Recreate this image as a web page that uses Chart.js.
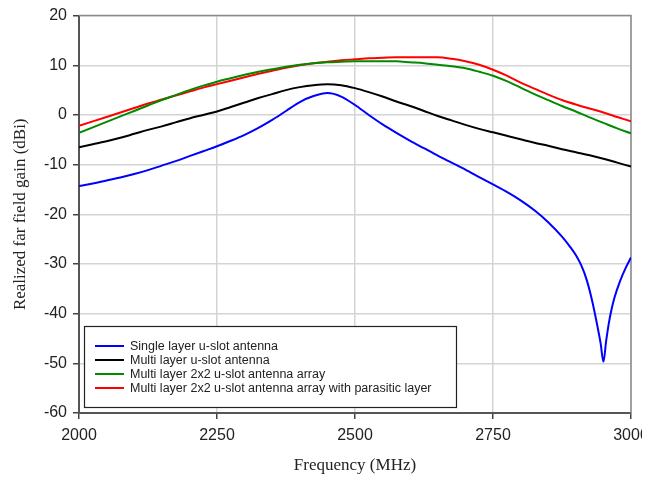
<!DOCTYPE html>
<html>
<head>
<meta charset="utf-8">
<title>Realized far field gain vs frequency</title>
<script src="https://cdn.jsdelivr.net/npm/chart.js@4"></script>
<style>
    html, body { margin: 0; padding: 0; background: #fff; }
    /* the reference is cropped just past the 3000 label */
    #wrap { width: 642px; height: 482px; overflow: hidden; }
</style>
</head>
<body>
<div id="wrap"><canvas id="gainChart" width="659" height="482"></canvas></div>
<script>
// Frequency points (MHz) for the three smooth curves
const freqs = [2000, 2025, 2050, 2075, 2100, 2125, 2150, 2175, 2200, 2225,
               2250, 2275, 2300, 2325, 2350, 2375, 2400, 2425, 2450, 2475,
               2500, 2525, 2550, 2575, 2600, 2625, 2650, 2675, 2700, 2725,
               2750, 2775, 2800, 2825, 2850, 2875, 2900, 2925, 2950, 2975, 3000];

// Single layer curve has a deep null near 2950, so it gets more points there
const singleFreqs = [2000, 2025, 2050, 2075, 2100, 2125, 2150, 2175, 2200, 2225,
                     2250, 2275, 2300, 2325, 2350, 2375, 2400, 2425, 2450, 2475,
                     2500, 2525, 2550, 2575, 2600, 2625, 2650, 2675, 2700, 2725,
                     2750, 2775, 2800, 2825, 2850, 2875, 2890, 2900, 2910, 2920,
                     2930, 2940, 2945, 2950, 2955, 2960, 2965, 2970, 2980, 2990, 3000];

// Realized gain (dBi)
const singleLayer = [-14.3, -13.8, -13.2, -12.6, -11.9, -11.1, -10.2, -9.3, -8.3, -7.3,
                     -6.3, -5.2, -4.0, -2.6, -1.0, 0.8, 2.6, 3.8, 4.4, 3.7,
                     2.0, 0.0, -1.9, -3.6, -5.2, -6.7, -8.2, -9.6, -11.0, -12.5,
                     -14.0, -15.5, -17.2, -19.2, -21.6, -24.5, -26.6, -28.2, -30.3, -33.3,
                     -37.6, -43.0, -46.0, -49.7, -45.5, -41.8, -39.0, -36.8, -33.5, -30.9, -28.7];

const multiLayer = [-6.5, -5.9, -5.3, -4.6, -3.8, -3.0, -2.3, -1.5, -0.7, 0.0,
                    0.7, 1.6, 2.5, 3.4, 4.2, 5.0, 5.6, 6.0, 6.2, 6.0,
                    5.4, 4.6, 3.7, 2.7, 1.8, 0.8, -0.2, -1.1, -2.0, -2.8,
                    -3.5, -4.2, -4.9, -5.6, -6.2, -6.9, -7.5, -8.1, -8.8, -9.6, -10.4];

const array2x2 = [-3.6, -2.5, -1.4, -0.3, 0.8, 1.9, 3.0, 4.0, 5.0, 5.9,
                  6.7, 7.4, 8.1, 8.7, 9.2, 9.7, 10.1, 10.4, 10.6, 10.7,
                  10.8, 10.8, 10.8, 10.8, 10.6, 10.4, 10.1, 9.8, 9.4, 8.7,
                  7.9, 6.8, 5.5, 4.2, 3.0, 1.8, 0.7, -0.5, -1.6, -2.7, -3.7];

const arrayParasitic = [-2.2, -1.3, -0.4, 0.5, 1.4, 2.3, 3.1, 3.9, 4.7, 5.5,
                        6.2, 6.9, 7.6, 8.3, 8.9, 9.5, 10.0, 10.4, 10.7, 11.0,
                        11.2, 11.4, 11.5, 11.6, 11.6, 11.6, 11.6, 11.3, 10.8, 10.1,
                        9.1, 7.9, 6.5, 5.3, 4.1, 3.0, 2.1, 1.3, 0.5, -0.4, -1.3];

const seriesNames = ['Single layer u-slot antenna',
                     'Multi layer u-slot antenna',
                     'Multi layer 2x2 u-slot antenna array',
                     'Multi layer 2x2 u-slot antenna array with parasitic layer'];
const seriesColors = ['#0000ff', '#000000', '#008a00', '#ff0000'];

function toPoints(xs, ys) {
    return xs.map((x, i) => ({ x: x, y: ys[i] }));
}

// Legend drawn as a boxed inset at the lower left of the plot
const insetLegend = {
    id: 'insetLegend',
    afterDatasetsDraw(chart) {
        const ctx = chart.ctx;
        const box = { x: 84, y: 326, w: 372, h: 81 };
        ctx.save();
        ctx.fillStyle = '#ffffff';
        ctx.fillRect(box.x, box.y, box.w, box.h);
        ctx.strokeStyle = '#222';
        ctx.lineWidth = 1.2;
        ctx.strokeRect(box.x + 0.5, box.y + 0.5, box.w, box.h);
        ctx.font = '12.5px "Liberation Sans", Arial, sans-serif';
        ctx.textBaseline = 'middle';
        chart.data.datasets.forEach((ds, i) => {
            const y = 346 + i * 14;
            ctx.strokeStyle = ds.borderColor;
            ctx.lineWidth = 2;
            ctx.beginPath();
            ctx.moveTo(95, y);
            ctx.lineTo(124, y);
            ctx.stroke();
            ctx.fillStyle = '#222';
            ctx.fillText(ds.label, 130, y + 0.5);
        });
        ctx.restore();
    },
    // top and right frame lines of the plot
    beforeDatasetsDraw(chart) {
        const { ctx, chartArea: a } = chart;
        ctx.save();
        ctx.strokeStyle = '#8a8a8a';
        ctx.lineWidth = 1.5;
        ctx.beginPath();
        ctx.moveTo(a.left, a.top);
        ctx.lineTo(a.right, a.top);
        ctx.lineTo(a.right, a.bottom);
        ctx.stroke();
        ctx.restore();
    }
};

Chart.defaults.font.family = '"Liberation Sans", Arial, sans-serif';
Chart.defaults.color = '#222';

new Chart(document.getElementById('gainChart'), {
    type: 'line',
    data: {
        datasets: [
            { label: seriesNames[0], data: toPoints(singleFreqs, singleLayer), borderColor: seriesColors[0] },
            { label: seriesNames[1], data: toPoints(freqs, multiLayer), borderColor: seriesColors[1] },
            { label: seriesNames[2], data: toPoints(freqs, array2x2), borderColor: seriesColors[2] },
            { label: seriesNames[3], data: toPoints(freqs, arrayParasitic), borderColor: seriesColors[3] }
        ].map(ds => Object.assign(ds, {
            borderWidth: 2,
            pointRadius: 0,
            fill: false,
            cubicInterpolationMode: 'monotone'
        }))
    },
    options: {
        responsive: false,
        animation: false,
        layout: { padding: { left: 0, top: 14, right: 28, bottom: 0 } },
        plugins: {
            legend: { display: false },
            tooltip: { enabled: false }
        },
        scales: {
            x: {
                type: 'linear',
                min: 2000,
                max: 3000,
                afterFit: (scale) => { scale.height = 69; },
                ticks: { stepSize: 250, padding: 7, font: { size: 16 }, color: '#222',
                         callback: (v) => String(v) },
                grid: { color: '#d4d4d4', lineWidth: 1.5, tickLength: 6, tickColor: '#444' },
                border: { color: '#555', width: 2 },
                title: {
                    display: true,
                    text: 'Frequency (MHz)',
                    font: { family: '"Liberation Serif", "Times New Roman", serif', size: 17, lineHeight: 1.2 },
                    color: '#222',
                    padding: { top: 0, bottom: 6 }
                }
            },
            y: {
                min: -60,
                max: 20,
                afterFit: (scale) => { scale.width = 79; },
                ticks: { stepSize: 10, padding: 6, font: { size: 16 }, color: '#222',
                         callback: (v) => String(v) },
                grid: { color: '#d4d4d4', lineWidth: 1.5, tickLength: 6, tickColor: '#444' },
                border: { color: '#555', width: 2 },
                title: {
                    display: true,
                    text: 'Realized far field gain (dBi)',
                    font: { family: '"Liberation Serif", "Times New Roman", serif', size: 17, lineHeight: 1.2 },
                    color: '#222',
                    padding: { top: 10, bottom: 0 }
                }
            }
        }
    },
    plugins: [insetLegend]
});
</script>
</body>
</html>
